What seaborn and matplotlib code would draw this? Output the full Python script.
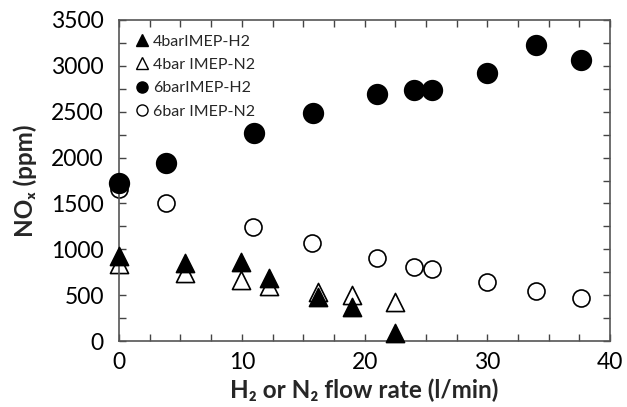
import matplotlib
matplotlib.use("Agg")
import matplotlib.pyplot as plt
import seaborn as sns
import pandas as pd
from matplotlib.ticker import MultipleLocator
from matplotlib.lines import Line2D

sns.set_theme(style="white")
plt.rcParams['font.family'] = ['Lato', 'DejaVu Sans']

# Data
x_4h2 = [0, 5.4, 9.9, 12.2, 16.2, 19.0, 22.5]
y_4h2 = [930, 855, 865, 685, 477, 367, 84]
x_4n2 = [0, 5.4, 9.9, 12.2, 16.2, 19.0, 22.5]
y_4n2 = [840, 738, 665, 600, 538, 502, 429]
x_6h2 = [0, 3.8, 11.0, 15.8, 21.0, 24.0, 25.5, 30.0, 34.0, 37.6]
y_6h2 = [1726, 1937, 2265, 2483, 2690, 2737, 2737, 2919, 3224, 3064]
x_6n2 = [0, 3.8, 10.9, 15.7, 21.0, 24.0, 25.5, 30.0, 34.0, 37.6]
y_6n2 = [1660, 1502, 1240, 1072, 900, 810, 789, 647, 549, 466]

labels = ["4barIMEP-H2", "4bar IMEP-N2", "6barIMEP-H2", "6bar IMEP-N2"]

fig = plt.figure(figsize=(6.27, 4.07), dpi=100)
ax = fig.add_axes([0.19, 0.162, 0.783, 0.789])

series = [
    (x_6n2, y_6n2, 'o', 'white', 150, labels[3], 2),
    (x_4n2, y_4n2, '^', 'white', 170, labels[1], 2),
    (x_6h2, y_6h2, 'o', 'black', 200, labels[2], 3),
    (x_4h2, y_4h2, '^', 'black', 170, labels[0], 3),
]
for xs, ys, mk, fc, s, lab, z in series:
    df = pd.DataFrame({"x": xs, "y": ys})
    sns.scatterplot(data=df, x="x", y="y", ax=ax, marker=mk, s=s,
                    facecolor=fc, edgecolor='black', linewidth=1.2,
                    clip_on=False, zorder=z, legend=False)

ax.set_xlim(0, 40)
ax.set_ylim(0, 3500)
ax.xaxis.set_major_locator(MultipleLocator(10))
ax.xaxis.set_minor_locator(MultipleLocator(2.5))
ax.yaxis.set_major_locator(MultipleLocator(500))
ax.yaxis.set_minor_locator(MultipleLocator(250))
ax.tick_params(which='both', direction='in', top=True, right=True,
               bottom=True, left=True, color='#444444', width=1, length=5)
ax.tick_params(which='major', labelsize=16.5, labelcolor='black')
ax.tick_params(axis='x', which='major', pad=8)
ax.tick_params(axis='y', which='major', pad=11)
for sp in ax.spines.values():
    sp.set_color('#555555')
    sp.set_linewidth(1.2)

ax.set_xlabel("H\u2082 or N\u2082 flow rate (l/min)", fontsize=17.5, fontweight='bold', labelpad=4)
ax.set_ylabel("NO\u2093 (ppm)", fontsize=17.5, fontweight='bold', labelpad=10)

handles = [
    Line2D([], [], marker='^', ls='', color='black', markerfacecolor='black', markersize=9),
    Line2D([], [], marker='^', ls='', color='black', markerfacecolor='white', markersize=9),
    Line2D([], [], marker='o', ls='', color='black', markerfacecolor='black', markersize=8),
    Line2D([], [], marker='o', ls='', color='black', markerfacecolor='white', markersize=8),
]
ax.legend(handles, labels, loc='upper left', frameon=False, fontsize=11.5,
          handletextpad=-0.1, labelspacing=0.58, borderaxespad=0.3,
          handlelength=1.5, bbox_to_anchor=(0.0, 0.99))

fig.savefig("out.png", dpi=100)
